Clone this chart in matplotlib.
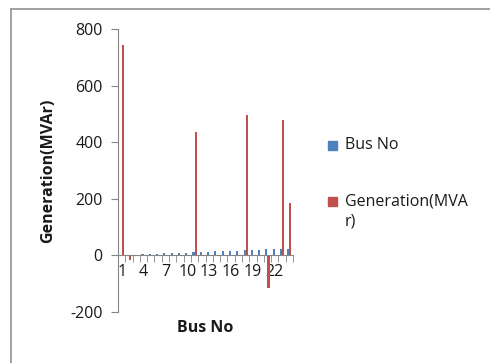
import matplotlib
matplotlib.use("Agg")
import matplotlib.pyplot as plt
from matplotlib.patches import Rectangle
from matplotlib.lines import Line2D
import numpy as np

plt.rcParams['font.family'] = ['Open Sans', 'DejaVu Sans']

categories = list(range(1, 25))
bus_no = list(range(1, 25))
generation = [745, -15, 0, 0, 0, 0, 0, 0, 0, 0, 435, 0,
              0, 0, 0, 0, 0, 495, 0, 0, -115, 0, 478, 186]
tick_labels = ["1", "4", "7", "10", "13", "16", "19", "22"]
tick_cats = [1, 4, 7, 10, 13, 16, 19, 22]

W, H = 490, 363
fig = plt.figure(figsize=(W / 100, H / 100), dpi=100)
fig.patch.set_facecolor('white')

# chart border (top and left edges only visible)
fig.add_artist(Line2D([11 / W, 1.0], [1 - 8.5 / H, 1 - 8.5 / H],
                      transform=fig.transFigure, color='#9a9a9a', linewidth=1.3))
fig.add_artist(Line2D([11 / W, 11 / W], [0.0, 1 - 8.5 / H],
                      transform=fig.transFigure, color='#9a9a9a', linewidth=1.3))

ax = fig.add_axes([118 / W, 1 - 312 / H, 175 / W, 283 / H])
x = np.array(categories, dtype=float)
bw = 1 / 3.5
ax.bar(x - bw / 2, bus_no, width=bw, color='#4F81BD', zorder=2)
ax.bar(x + bw / 2, generation, width=bw, color='#C0504D', zorder=2)

ax.set_xlim(0.5, 24.5)
ax.set_ylim(-200, 800)
ax.set_yticks([-200, 0, 200, 400, 600, 800])
ax.set_yticklabels(["-200", "0", "200", "400", "600", "800"])
ax.set_xticks(tick_cats)
ax.set_xticklabels(tick_labels)
ax.set_xticks(np.arange(0.5, 25, 1), minor=True)

axis_col = '#868686'
for s in ['top', 'right']:
    ax.spines[s].set_visible(False)
ax.spines['bottom'].set_position(('data', 0))
ax.spines['bottom'].set_color(axis_col)
ax.spines['left'].set_color(axis_col)
ax.tick_params(axis='y', length=5, color=axis_col, labelsize=11.5, pad=6,
               labelcolor='#1a1a1a')
ax.tick_params(axis='x', which='major', length=0, labelsize=11.5, pad=6,
               labelcolor='#1a1a1a')
ax.tick_params(axis='x', which='minor', length=5, color=axis_col)

fig.text(48 / W, 1 - 171 / H, "Generation(MVAr)", rotation=90, ha='center',
         va='center', fontsize=11.5, fontweight='bold', color='#1a1a1a')
fig.text(205 / W, 1 - 328 / H, "Bus No", ha='center', va='center',
         fontsize=11.5, fontweight='bold', color='#1a1a1a')

# legend
for (yc, col) in [(145, '#4F81BD'), (201, '#C0504D')]:
    fig.patches.append(Rectangle((328 / W, 1 - (yc + 4.5) / H), 9 / W, 9 / H,
                                 transform=fig.transFigure, color=col))
fig.text(345 / W, 1 - 145 / H, "Bus No", ha='left', va='center',
         fontsize=11.5, color='#1a1a1a')
fig.text(345 / W, 1 - 201 / H, "Generation(MVA", ha='left', va='center',
         fontsize=11.5, color='#1a1a1a')
fig.text(345 / W, 1 - 222 / H, "r)", ha='left', va='center',
         fontsize=11.5, color='#1a1a1a')

fig.savefig("out.png", dpi=100, facecolor='white')
